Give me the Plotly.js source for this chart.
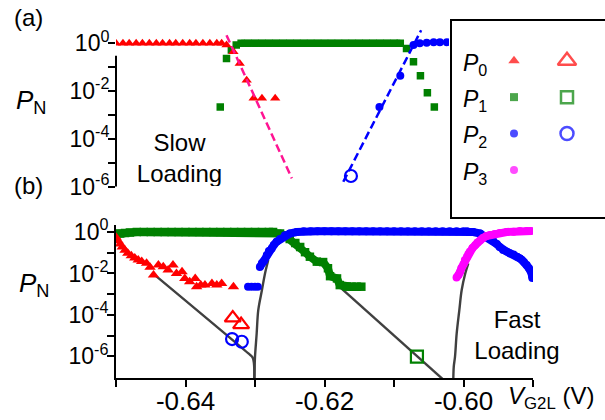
<!DOCTYPE html>
<html><head><meta charset="utf-8">
<script src="https://cdn.plot.ly/plotly-3.0.1.min.js"></script>
<style>html,body{margin:0;padding:0;background:#fff}#chart{width:605px;height:420px}</style>
</head><body><div id="chart"></div>
<script>
// ---------- Panel (a): slow loading ----------
const P0a_x = [-0.6500,-0.6490,-0.6481,-0.6471,-0.6462,-0.6452,-0.6442,-0.6433,-0.6423,-0.6414,-0.6404,-0.6394,-0.6385,-0.6375,-0.6365,-0.6355,-0.6348,-0.6341,-0.6331,-0.6322,-0.6312,-0.6302,-0.6290,-0.6271];
const P0a_y = [1,1,1,1,1,1,1,1,1,1,1,1,1,1,1,1,1,0.832,0.437,0.141,0.0282,0.0049,0.0049,0.0049];
const P1a_x = [-0.6350,-0.6341,-0.6334,-0.6327,-0.6320,-0.6310,-0.6300,-0.6290,-0.6280,-0.6270,-0.6260,-0.6250,-0.6240,-0.6230,-0.6220,-0.6210,-0.6200,-0.6190,-0.6180,-0.6170,-0.6160,-0.6150,-0.6140,-0.6130,-0.6120,-0.6110,-0.6100,-0.6091,-0.6082,-0.6072,-0.6062,-0.6052,-0.6042];
const P1a_y = [0.00214,0.229,0.513,0.832,1,1,1,1,1,1,1,1,1,1,1,1,1,1,1,1,1,1,1,1,1,1,1,1,0.603,0.166,0.0427,0.00832,0.00214];
const P2a_x = [-0.6121,-0.6091,-0.6072,-0.6063,-0.6053,-0.6043,-0.6034,-0.6024];
const P2a_y = [0.00214,0.0427,0.832,1.0,1.05,1.1,1.1,1.1];
const P2a_open_x = [-0.6162];
const P2a_open_y = [2.75e-6];
const fitP0a_x = [-0.6341,-0.6247];
const fitP0a_y = [2.14,2.19e-6];
const fitP2a_x = [-0.6173,-0.6061];
const fitP2a_y = [1.58e-6,3.47];

// ---------- Panel (b): fast loading ----------
const P0b_x = [-0.6500,-0.6497,-0.6494,-0.6491,-0.6487,-0.6483,-0.6478,-0.6473,-0.6468,-0.6463,-0.6456,-0.6451,-0.6446,-0.6439,-0.6432,-0.6425,-0.6418,-0.6413,-0.6405,-0.6401,-0.6394,-0.6386,-0.6384,-0.6378,-0.6372,-0.6362,-0.6355,-0.6348,-0.6331];
const P0b_y = [0.562,0.380,0.263,0.191,0.132,0.0955,0.0708,0.0562,0.0447,0.0380,0.0309,0.0200,0.00832,0.0257,0.0209,0.0145,0.0257,0.0100,0.0120,0.00575,0.00398,0.00575,0.00229,0.00275,0.00275,0.00331,0.00275,0.00331,0.00229];
const P1b_x = [-0.6500,-0.6494,-0.6487,-0.6480,-0.6470,-0.6460,-0.6450,-0.6440,-0.6430,-0.6420,-0.6410,-0.6400,-0.6390,-0.6380,-0.6370,-0.6360,-0.6350,-0.6340,-0.6330,-0.6320,-0.6310,-0.6300,-0.6290,-0.6280,-0.6274,-0.6264,-0.6257,-0.6250,-0.6242,-0.6235,-0.6228,-0.6221,-0.6211,-0.6202,-0.6195,-0.6192,-0.6182,-0.6178,-0.6168,-0.6161,-0.6154,-0.6147];
const P1b_y = [0.794,0.851,0.91,0.95,1,1,1,1,1,1,1,1,1,1,1,1,1,1,1,1,1,1,1,1,1.0,0.851,0.676,0.457,0.295,0.191,0.107,0.0646,0.0372,0.0355,0.0178,0.00741,0.00575,0.00275,0.00229,0.00229,0.00229,0.00229];
const P2b_x = [-0.6310,-0.6305,-0.6300,-0.6296,-0.6293,-0.6290,-0.6287,-0.6283,-0.6280,-0.6276,-0.6273,-0.6269,-0.6264,-0.6257,-0.6250,-0.6240,-0.6230,-0.6220,-0.6210,-0.6200,-0.6190,-0.6180,-0.6170,-0.6160,-0.6150,-0.6140,-0.6130,-0.6120,-0.6110,-0.6100,-0.6090,-0.6080,-0.6070,-0.6060,-0.6050,-0.6040,-0.6030,-0.6020,-0.6010,-0.6000,-0.5995,-0.5986,-0.5976,-0.5967,-0.5962,-0.5957,-0.5952,-0.5948,-0.5943,-0.5938,-0.5933,-0.5928,-0.5923,-0.5919,-0.5916,-0.5913,-0.5909,-0.5906,-0.5902,-0.5901];
const P2b_y = [0.00229,0.00229,0.00229,0.00229,0.0204,0.0316,0.0398,0.0776,0.120,0.162,0.234,0.339,0.457,0.708,0.851,1.0,1.1,1.1,1.1,1.1,1.1,1.1,1.1,1.1,1.1,1.1,1.1,1.1,1.1,1.1,1.1,1.1,1.1,1.1,1.1,1.1,1.1,1.1,1.1,1.1,1.1,1.0,0.851,0.575,0.501,0.372,0.263,0.191,0.135,0.115,0.0933,0.0813,0.0646,0.0537,0.0447,0.0355,0.0257,0.0182,0.0100,0.00603];
const P3b_x = [-0.6010,-0.6007,-0.6005,-0.6003,-0.6000,-0.5998,-0.5995,-0.5993,-0.5991,-0.5987,-0.5983,-0.5980,-0.5976,-0.5972,-0.5967,-0.5962,-0.5955,-0.5948,-0.5938,-0.5928,-0.5919,-0.5909,-0.5902];
const P3b_y = [0.00631,0.00832,0.0117,0.0182,0.0282,0.0447,0.0646,0.0871,0.112,0.170,0.234,0.309,0.407,0.513,0.646,0.724,0.794,0.891,1.0,1.047,1.122,1.122,1.122];
const P0b_open_x = [-0.6332,-0.6320];
const P0b_open_y = [7.08e-5,3.39e-5];
const P2b_open_x = [-0.6333,-0.6319];
const P2b_open_y = [6.76e-6,5.01e-6];
const P1b_open_x = [-0.6067];
const P1b_open_y = [9.55e-7];
const fit1_x = [-0.6444,-0.6310,-0.63035,-0.63015,-0.6301];
const fit1_y = [8.32e-3,1.41e-6,8.91e-7,4.47e-7,6.31e-8];
const fit2_x = [-0.6301,-0.63005,-0.6300,-0.62976,-0.62953,-0.6290,-0.62856,-0.62809];
const fit2_y = [6.31e-8,3.16e-7,9.55e-7,1.26e-5,1.70e-4,1.58e-3,0.0100,0.0447];
const fit3_x = [-0.6177,-0.6030];
const fit3_y = [2.09e-3,7.94e-8];
const fit4_x = [-0.60147,-0.6014,-0.60122,-0.60098,-0.6006,-0.60026,-0.59975,-0.59931];
const fit4_y = [6.31e-8,3.16e-7,9.55e-7,1.26e-5,1.70e-4,1.58e-3,0.0100,0.0309];

// ---------- ticks ----------
const yTickVals = [1,1e-2,1e-4,1e-6];
const yTickText = ['10<sup>0</sup>','10<sup>-2</sup>','10<sup>-4</sup>','10<sup>-6</sup>'];
const yMinorVals = [1e-1,1e-3,1e-5];
const xTickVals = [-0.64,-0.62,-0.60];
const xTickText = ['-0.64','-0.62','-0.60'];
const xMinorVals = [-0.65,-0.63,-0.61,-0.59];

// ---------- legend ----------
const legLabels = ['P','P','P','P'];
const legSubs = ['0','1','2','3'];
const legFilledSym = ['triangle-up','square','circle','circle'];
const legFilledCol = ['#ff0000','#008000','#0000ff','#ff00ff'];
const legOpenSym = ['triangle-up-open','square-open','circle-open'];
const legOpenCol = ['#ff0000','#008000','#0000ff'];

const RED='#ff0000', GREEN='#008000', BLUE='#0000ff', MAG='#ff00ff', PINK='#ff1493', GRAY='#404040';
const W=605, H=420;
const pxX = v => v/W, pxY = v => 1 - v/H;

function mk(x,y,sym,col,size,xa,ya){
  return {x:x,y:y,type:'scatter',mode:'markers',xaxis:xa,yaxis:ya,hoverinfo:'skip',
    marker:{symbol:sym,color:col,size:size,line:{width:0}}};
}
function band(x,y,sym,col,size,lw,xa,ya){
  return {x:x,y:y,type:'scatter',mode:'lines+markers',xaxis:xa,yaxis:ya,hoverinfo:'skip',
    line:{color:col,width:lw},marker:{symbol:sym,color:col,size:size,line:{width:0}}};
}
function openMk(x,y,sym,col,size,xa,ya){
  return {x:x,y:y,type:'scatter',mode:'markers',xaxis:xa,yaxis:ya,hoverinfo:'skip',
    marker:{symbol:sym,color:col,size:size,line:{width:2.2,color:col}}};
}
function ln(x,y,col,w,dash,xa,ya,shape){
  return {x:x,y:y,type:'scatter',mode:'lines',xaxis:xa,yaxis:ya,hoverinfo:'skip',
    line:{color:col,width:w,dash:dash||'solid',shape:shape||'linear'}};
}

const traces = [
  // panel b gray fits
  ln(fit1_x,fit1_y,GRAY,2.4,'solid','x','y','spline'),
  ln(fit2_x,fit2_y,GRAY,2.4,'solid','x','y','spline'),
  ln(fit3_x,fit3_y,GRAY,2.4,'solid','x','y'),
  ln(fit4_x,fit4_y,GRAY,2.4,'solid','x','y','spline'),
  band(P1b_x,P1b_y,'square',GREEN,8.5,8,'x','y'),
  mk(P0b_x,P0b_y,'triangle-up',RED,10,'x','y'),
  mk(P2b_x.slice(0,4),P2b_y.slice(0,4),'circle',BLUE,8,'x','y'),
  band(P2b_x.slice(4),P2b_y.slice(4),'circle',BLUE,8,8,'x','y'),
  band(P3b_x,P3b_y,'circle',MAG,8,8,'x','y'),
  openMk(P0b_open_x,P0b_open_y,'triangle-up-open',RED,14,'x','y'),
  openMk(P2b_open_x,P2b_open_y,'circle-open',BLUE,12,'x','y'),
  openMk(P1b_open_x,P1b_open_y,'square-open',GREEN,12,'x','y'),
  // panel a
  ln(P1a_x.slice(4,28),P1a_y.slice(4,28),GREEN,7,'solid','x2','y2'),
  mk(P1a_x,P1a_y,'square',GREEN,7.5,'x2','y2'),
  mk(P0a_x,P0a_y,'triangle-up',RED,9,'x2','y2'),
  mk(P2a_x,P2a_y,'circle',BLUE,8,'x2','y2'),
  openMk(P2a_open_x,P2a_open_y,'circle-open',BLUE,12,'x2','y2'),
  ln(fitP0a_x,fitP0a_y,PINK,2.5,'8px,4px','x2','y2'),
  ln(fitP2a_x,fitP2a_y,BLUE,2.5,'8px,4px','x2','y2'),
  // legend keys (column 0 = filled, column 1 = open; rows = P0..P3)
  {x:legFilledSym.map(()=>0),y:legFilledSym.map((s,i)=>i),type:'scatter',mode:'markers',xaxis:'x3',yaxis:'y3',hoverinfo:'skip',
   marker:{symbol:legFilledSym,color:legFilledCol,size:[10,8,8,8],line:{width:0}}},
  {x:legOpenSym.map(()=>1),y:legOpenSym.map((s,i)=>i),type:'scatter',mode:'markers',xaxis:'x3',yaxis:'y3',hoverinfo:'skip',
   marker:{symbol:legOpenSym,color:legOpenCol,size:[16,12,13],line:{width:2.5,color:legOpenCol}}}
];

const tickStyle = {ticks:'outside',ticklen:7,tickwidth:2,tickcolor:'black',showgrid:false,zeroline:false};

const shapes = [];
shapes.push({type:'rect',xref:'paper',yref:'paper',x0:pxX(451),x1:pxX(612),y0:pxY(218),y1:pxY(20),line:{color:'black',width:2},fillcolor:'white',layer:'below'});
for (let k=1;k<=5;k++) shapes.push({type:'line',xref:'x2 domain',yref:'y2',x0:0,x1:1,y0:-k,y1:-k,line:{color:'#9a9a9a',width:1.6},layer:'below'});
for (let k=1;k<=6;k++) shapes.push({type:'line',xref:'x domain',yref:'y',x0:0,x1:1,y0:-k,y1:-k,line:{color:'#9a9a9a',width:1.6},layer:'below'});
shapes.push({type:'line',xref:'x2 domain',yref:'y2',x0:0,x1:0,y0:-6,y1:0.3,line:{color:'black',width:2},layer:'above'});

const F = 'Liberation Sans, Arial, sans-serif';
function ann(text,x,y,size,extra){
  return Object.assign({text:text,x:pxX(x),y:pxY(y),xref:'paper',yref:'paper',xanchor:'center',yanchor:'middle',showarrow:false,font:{size:size}},extra||{});
}
const annotations = [
  ann('(a)',28,18,24),
  ann('(b)',28,185,24),
  ann('<i>P</i><sub>N</sub>',14,101,26,{xanchor:'left'}),
  ann('<i>P</i><sub>N</sub>',17,284,26,{xanchor:'left'}),
  ann('Slow<br>Loading',179.5,157.5,24,{bgcolor:'white',width:103,height:56,borderpad:0}),
  ann('Fast<br>Loading',517,335,24,{bgcolor:'white',width:100,height:62,borderpad:0}),
  ann('<i>V</i><sub>G2L</sub> (V)',551,397,24)
];
const legRowsY = [64,100,137,173];
legLabels.forEach((p,i)=>{
  annotations.push(ann('<i>'+p+'</i><sub>'+legSubs[i]+'</sub>',461,legRowsY[i],23,{xanchor:'left'}));
});

const layout = {
  width:W,height:H,margin:{l:0,r:0,t:0,b:0},paper_bgcolor:'white',plot_bgcolor:'rgba(0,0,0,0)',showlegend:false,
  font:{family:F,color:'black'},
  xaxis:Object.assign({},tickStyle,{showline:true,linewidth:2,linecolor:'black',domain:[pxX(116),pxX(533)],range:[-0.65,-0.59],tickmode:'array',tickvals:xTickVals,ticktext:xTickText,tickfont:{size:26},ticklabelstandoff:-8,
    minor:{tickmode:'array',tickvals:xMinorVals,ticks:'outside',ticklen:7,tickwidth:2,tickcolor:'black',showgrid:false},anchor:'y'}),
  yaxis:Object.assign({},tickStyle,{showline:true,linewidth:2,linecolor:'black',domain:[pxY(378),pxY(224.8)],type:'log',range:[-7.05,0.35],tickmode:'array',tickvals:yTickVals,ticktext:yTickText,tickfont:{size:23},ticklabelstandoff:-6,
    minor:{tickmode:'array',tickvals:yMinorVals,ticks:'outside',ticklen:7,tickwidth:2,tickcolor:'black',showgrid:false},anchor:'x'}),
  xaxis2:{domain:[pxX(116),pxX(449)],range:[-0.65,-0.60209],visible:false,anchor:'y2'},
  yaxis2:Object.assign({},tickStyle,{showline:false,domain:[pxY(186.5),pxY(28.8)],type:'log',range:[-6,0.6],tickmode:'array',tickvals:yTickVals,ticktext:yTickText,tickfont:{size:23},ticklabelstandoff:-6,
    minor:{tickmode:'array',tickvals:yMinorVals,ticks:'outside',ticklen:7,tickwidth:2,tickcolor:'black',showgrid:false},anchor:'x2'}),
  xaxis3:{domain:[pxX(484),pxX(597)],range:[-0.566,1.566],visible:false,anchor:'y3'},
  yaxis3:{domain:[pxY(190),pxY(40)],range:[3.549,-0.568],visible:false,anchor:'x3'},
  shapes:shapes,annotations:annotations
};

Plotly.newPlot('chart',traces,layout,{staticPlot:true,displayModeBar:false});
</script></body></html>
